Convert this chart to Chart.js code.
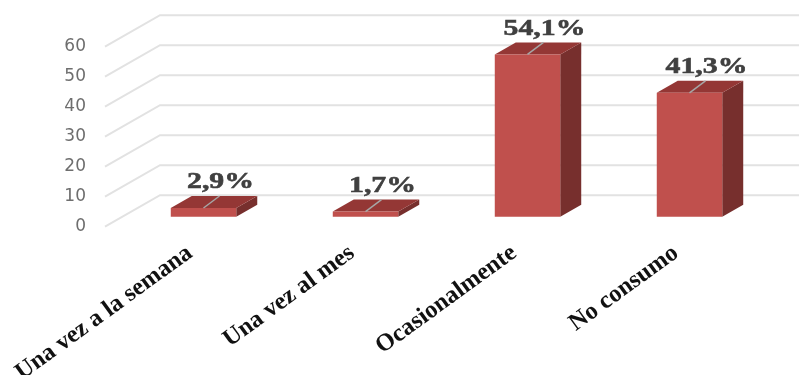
<!DOCTYPE html>
<html lang="es">
<head>
<meta charset="utf-8">
<title>Frecuencia de consumo</title>
<script src="https://cdn.jsdelivr.net/npm/chart.js"></script>
<style>
  html, body { margin: 0; padding: 0; background: #fff; }
  canvas { display: block; filter: blur(0.5px); }
</style>
</head>
<body>
<canvas id="chart" width="799" height="375"></canvas>
<script>
const categories = ['Una vez a la semana', 'Una vez al mes', 'Ocasionalmente', 'No consumo'];
const values = [2.9, 1.7, 54.1, 41.3];
const yTicks = [0, 10, 20, 30, 40, 50, 60];

const frontColor = '#c0504d';
const topColor = '#943735';
const sideColor = '#772f2d';
const gridColor = '#e2e2e2';

// fake 3D: wall depth, where the bars sit on the floor, how deep they are
const wall = { dx: 55, dy: -31.5 };
const barShift = { dx: 17.5, dy: -10 };
const barDepth = { dx: 21, dy: -12 };

function face(ctx, color, pts) {
  ctx.fillStyle = color;
  ctx.beginPath();
  pts.forEach((p, i) => (i ? ctx.lineTo(p[0], p[1]) : ctx.moveTo(p[0], p[1])));
  ctx.closePath();
  ctx.fill();
}

const fake3d = {
  id: 'fake3d',
  // walls go behind everything
  beforeDatasetsDraw(chart) {
    const { ctx, chartArea, scales } = chart;
    ctx.save();
    ctx.strokeStyle = gridColor;
    ctx.lineWidth = 2;
    yTicks.forEach((v) => {
      const y = scales.y.getPixelForValue(v);
      ctx.beginPath();
      ctx.moveTo(chartArea.left, y);
      ctx.lineTo(chartArea.left + wall.dx, y + wall.dy);
      ctx.lineTo(chart.width, y + wall.dy);
      ctx.stroke();
    });
    ctx.restore();

    // native bars are the front faces, moved onto the floor
    ctx.save();
    ctx.translate(barShift.dx, barShift.dy);
    chart.getDatasetMeta(0).data.forEach((bar) => {
      const l = bar.x - bar.width / 2;
      const r = bar.x + bar.width / 2;
      face(ctx, sideColor, [[r, bar.y], [r + barDepth.dx, bar.y + barDepth.dy], [r + barDepth.dx, bar.base + barDepth.dy], [r, bar.base]]);
      face(ctx, topColor, [[l, bar.y], [l + barDepth.dx, bar.y + barDepth.dy], [r + barDepth.dx, bar.y + barDepth.dy], [r, bar.y]]);
    });
  },
  afterDatasetsDraw(chart) {
    const { ctx } = chart;
    ctx.restore();

    // leader lines and value labels
    chart.getDatasetMeta(0).data.forEach((bar, i) => {
      const x0 = bar.x + barShift.dx;
      const y0 = bar.y + barShift.dy;
      const x1 = x0 + 16;
      const y1 = y0 + barDepth.dy;
      ctx.save();
      ctx.strokeStyle = '#a6a6a6';
      ctx.lineWidth = 1.5;
      ctx.beginPath();
      ctx.moveTo(x0, y0);
      ctx.lineTo(x1, y1);
      ctx.stroke();

      // the source picture is stretched sideways, so is this text
      ctx.translate(x1 + 1, y1 - 14);
      ctx.scale(1.24, 1);
      ctx.font = 'bold 24px "Liberation Serif"';
      ctx.fillStyle = '#404040';
      ctx.strokeStyle = '#404040';
      ctx.lineWidth = 0.6;
      ctx.textAlign = 'center';
      ctx.textBaseline = 'middle';
      const label = values[i].toFixed(1).replace('.', ',') + '%';
      ctx.fillText(label, 0, 0);
      ctx.strokeText(label, 0, 0);
      ctx.restore();
    });
  }
};

new Chart(document.getElementById('chart'), {
  type: 'bar',
  data: {
    labels: categories,
    datasets: [{
      data: values,
      backgroundColor: frontColor,
      barPercentage: 1,
      categoryPercentage: 0.404,
      clip: false
    }]
  },
  options: {
    responsive: false,
    animation: false,
    layout: { padding: { top: 46.7, right: 46, left: 0, bottom: 0 } },
    plugins: { legend: { display: false }, tooltip: { enabled: false } },
    scales: {
      x: {
        afterFit(scale) {
          // long rotated labels must not push the plot area to the right
          scale.height = 148.3;
          scale.paddingLeft = 0;
          scale.paddingRight = 0;
        },
        grid: { display: false },
        border: { display: false },
        ticks: {
          autoSkip: false,
          minRotation: 36,
          maxRotation: 36,
          padding: 4,
          labelOffset: 4,
          color: '#111',
          font: { family: '"Liberation Serif"', size: 24.5, weight: 'bold' }
        }
      },
      y: {
        min: 0,
        max: 60,
        afterFit(scale) { scale.width = 105; },
        afterBuildTicks(scale) { scale.ticks = yTicks.map((v) => ({ value: v })); },
        grid: { display: false },
        border: { display: false },
        ticks: {
          padding: 11,
          color: '#6e6e6e',
          font: { family: '"DejaVu Sans"', size: 17 }
        }
      }
    }
  },
  plugins: [fake3d]
});
</script>
</body>
</html>
